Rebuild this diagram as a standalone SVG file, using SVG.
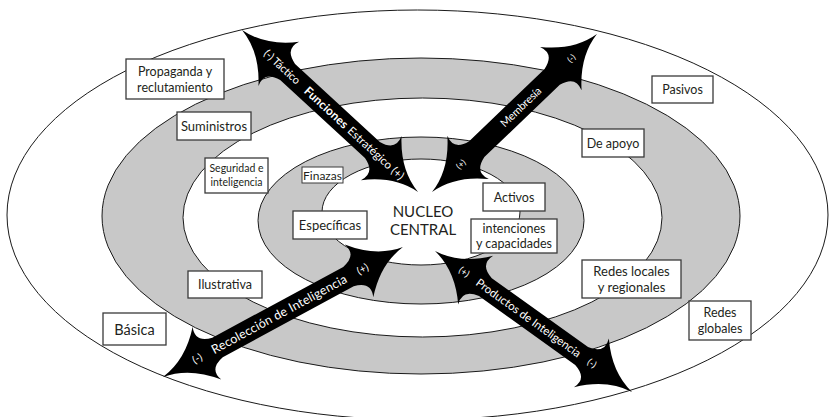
<svg xmlns="http://www.w3.org/2000/svg" width="830" height="417" viewBox="0 0 830 417">
<style>
.ring{stroke:#1a1a1a;stroke-width:1}
.w{fill:#ffffff}
.g{fill:#c8c8c8}
.box{fill:#ffffff;stroke:#3a3a3a;stroke-width:1.3}
.lbl{font-family:Lato,"Open Sans",sans-serif;font-size:12.5px;fill:#231f20;text-anchor:middle}
.arr{fill:#000000}
.at{font-family:Lato,"Open Sans",sans-serif;font-size:11px;fill:#ffffff;text-anchor:middle}
.st{text-anchor:start}
</style>
<rect width="830" height="417" fill="#ffffff"/>
<g id="rings">
<ellipse class="ring w" cx="417.5" cy="215" rx="410.5" ry="205"/>
<ellipse class="ring g" cx="421" cy="216" rx="319" ry="158"/>
<ellipse class="ring w" cx="422.5" cy="217.5" rx="239.5" ry="119.5"/>
<ellipse class="ring g" cx="421" cy="220.5" rx="163" ry="83.5"/>
<ellipse class="ring w" cx="421" cy="212" rx="99" ry="53"/>
</g>
<g id="connectors">
<g id="arrow-funciones" transform="translate(242,30) rotate(42.62)">
<path class="arr" d="M0,0 Q28,-4 50,-30 Q44,-15 62,-11 L177.2,-11 Q195.2,-15 189.2,-30 Q211.2,-4 239.2,0 Q211.2,4 189.2,30 Q195.2,15 177.2,11 L62,11 Q44,15 50,30 Q28,4 0,0Z"/>
<text class="at st" x="32" y="0" dy="0.35em" textLength="45" style="font-size:11px">(-) Táctico</text>
<text class="at st" x="87" y="0" dy="0.35em" textLength="55" style="font-size:12px;font-weight:bold">Funciones</text>
<text class="at st" x="146" y="0" dy="0.35em" textLength="72" style="font-size:11.5px">Estratégico (+)</text>
</g>
<g id="arrow-membresia" transform="translate(432,192) rotate(-43.76)">
<path class="arr" d="M0,0 Q28,-4 50,-30 Q44,-15 62,-11 L166.4,-11 Q184.4,-15 178.4,-30 Q200.4,-4 228.4,0 Q200.4,4 178.4,30 Q184.4,15 166.4,11 L62,11 Q44,15 50,30 Q28,4 0,0Z"/>
<text class="at" x="40" y="0" dy="0.35em" style="font-size:8.5px">(+)</text>
<text class="at st" x="97" y="0" dy="0.35em" textLength="52" style="font-size:11px">Membresía</text>
<text class="at" x="193" y="0" dy="0.35em" style="font-size:8.5px">(-)</text>
</g>
<g id="arrow-recoleccion" transform="translate(163,377) rotate(-28.44)">
<path class="arr" d="M0,0 Q28,-4 50,-30 Q44,-15 62,-11 L210.9,-11 Q228.9,-15 222.9,-30 Q244.9,-4 272.9,0 Q244.9,4 222.9,30 Q228.9,15 210.9,11 L62,11 Q44,15 50,30 Q28,4 0,0Z"/>
<text class="at" x="39" y="0" dy="0.35em" style="font-size:10.5px">(-)</text>
<text class="at st" x="56" y="0" dy="0.35em" textLength="152" style="font-size:12.5px">Recolección de Inteligencia</text>
<text class="at" x="227" y="0" dy="0.35em" style="font-size:10.5px">(+)</text>
</g>
<g id="arrow-productos" transform="translate(435,251) rotate(35.59)">
<path class="arr" d="M0,0 Q28,-4 50,-30 Q44,-15 62,-11 L180.3,-11 Q198.3,-15 192.3,-30 Q214.3,-4 242.3,0 Q214.3,4 192.3,30 Q198.3,15 180.3,11 L62,11 Q44,15 50,30 Q28,4 0,0Z"/>
<text class="at" x="36" y="0" dy="0.35em" style="font-size:9.5px">(+)</text>
<text class="at st" x="52" y="0" dy="0.35em" textLength="126" style="font-size:11.5px">Productos de Inteligencia</text>
<text class="at" x="193" y="0" dy="0.35em" style="font-size:9.5px">(-)</text>
</g>
</g>
<g id="n-propaganda"><rect class="box" x="126" y="59" width="98" height="40"/><text class="lbl" x="175" y="75.5">Propaganda y</text><text class="lbl" x="175" y="91.5">reclutamiento</text></g>
<g id="n-suministros"><rect class="box" x="177" y="112" width="74" height="28"/><text class="lbl" x="214" y="130.5" style="font-size:13px">Suministros</text></g>
<g id="n-seguridad"><rect class="box" x="205" y="158" width="63" height="35"/><text class="lbl" x="236.5" y="172" style="font-size:10.5px">Seguridad e</text><text class="lbl" x="236.5" y="186" style="font-size:10.5px">inteligencia</text></g>
<g id="n-finazas"><rect class="box" x="302" y="167" width="41" height="16" style="stroke-width:1"/><text class="lbl" x="322.5" y="179.5" style="font-size:12px">Finazas</text></g>
<g id="n-pasivos"><rect class="box" x="652" y="76" width="61" height="27"/><text class="lbl" x="682.5" y="93.5">Pasivos</text></g>
<g id="n-deapoyo"><rect class="box" x="582" y="129" width="62" height="28"/><text class="lbl" x="613" y="147.5">De apoyo</text></g>
<g id="n-activos"><rect class="box" x="483" y="183" width="62" height="28"/><text class="lbl" x="514" y="201.5">Activos</text></g>
<g id="n-intenciones"><rect class="box" x="471" y="219" width="86" height="34"/><text class="lbl" x="514" y="233">intenciones</text><text class="lbl" x="514" y="248">y capacidades</text></g>
<g id="n-especificas"><rect class="box" x="293" y="211" width="74" height="28"/><text class="lbl" x="330" y="229.5" style="font-size:13px">Específicas</text></g>
<g id="n-nucleo"><text class="lbl" x="423" y="217" style="font-size:15px">NUCLEO</text><text class="lbl" x="423" y="235" style="font-size:15px">CENTRAL</text></g>
<g id="n-ilustrativa"><rect class="box" x="188" y="271" width="74" height="27"/><text class="lbl" x="225" y="289">Ilustrativa</text></g>
<g id="n-basica"><rect class="box" x="103" y="313" width="63" height="32"/><text class="lbl" x="134.5" y="334.5" style="font-size:14.5px">Básica</text></g>
<g id="n-redeslocales"><rect class="box" x="582" y="260" width="99" height="38"/><text class="lbl" x="631.5" y="275.5" style="font-size:13px">Redes locales</text><text class="lbl" x="631.5" y="291.5" style="font-size:13px">y regionales</text></g>
<g id="n-redesglobales"><rect class="box" x="689" y="301" width="62" height="39"/><text class="lbl" x="720" y="317">Redes</text><text class="lbl" x="720" y="333">globales</text></g>
</svg>
